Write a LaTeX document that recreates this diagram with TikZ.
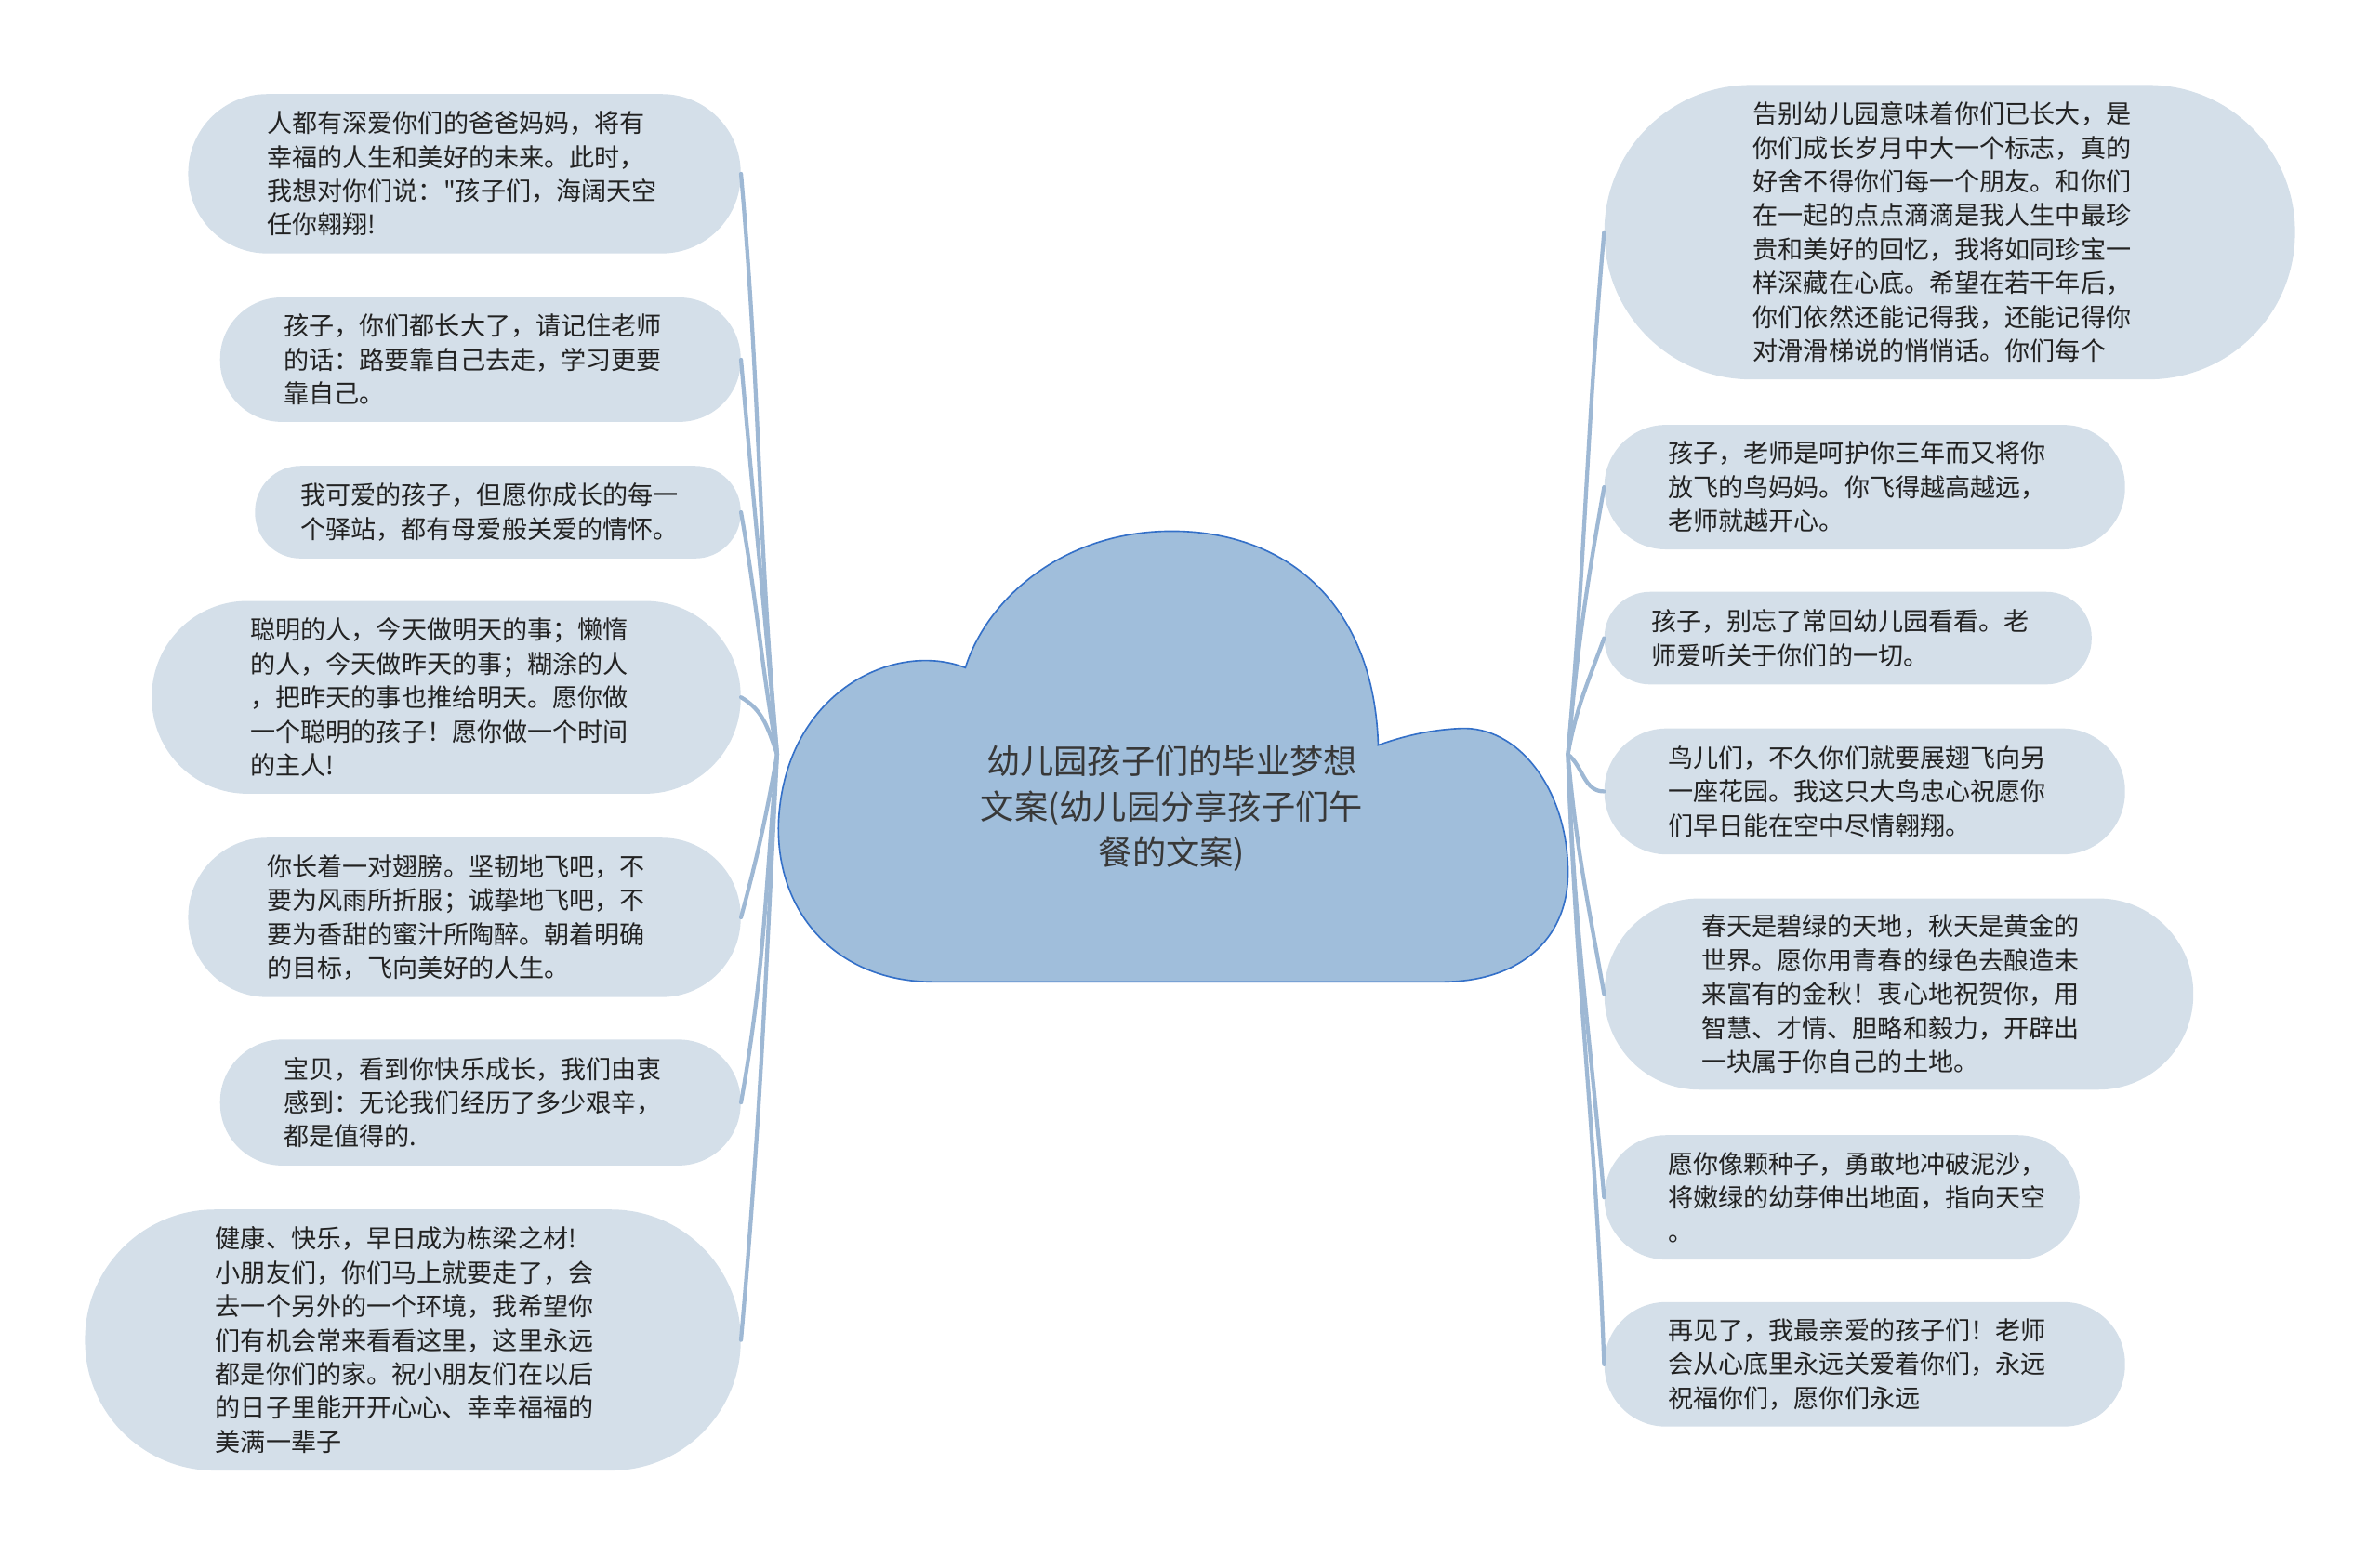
\documentclass[tikz,border=0pt]{standalone}
\usepackage{fontspec}
\setmainfont{Noto Sans CJK SC}
\newfontfamily\plainfont{Noto Sans CJK SC}
\usetikzlibrary{positioning}

\definecolor{bubblefill}{RGB}{212,223,233}
\definecolor{cloudfill}{RGB}{160,190,219}
\definecolor{cloudline}{RGB}{52,112,200}
\definecolor{linkcol}{RGB}{158,184,212}
\definecolor{inkcol}{RGB}{34,34,34}

\tikzset{
  bubble/.style={fill=bubblefill, text=inkcol, align=left, inner ysep=0pt,
    font=\fontsize{16.6}{22.3}\selectfont},
  link/.style={draw=linkcol, line width=2.6pt, line cap=round},
  rootlabel/.style={text=inkcol!90!white, align=center,
    font=\fontsize{22.2}{30}\selectfont}
}

\begin{document}
\begin{tikzpicture}[x=1pt,y=1pt]
\useasboundingbox (0,0) rectangle (1568,-1025);

% central cloud
\fill[cloudfill, draw=cloudline, line width=1pt]
  (636,-440) .. controls (590,-422) and (518,-455) .. (513,-540)
  .. controls (510,-600) and (550,-647) .. (615,-647)
  -- (950,-647)
  .. controls (1000,-647) and (1033,-620) .. (1033,-575)
  .. controls (1033,-520) and (1000,-478) .. (962,-480)
  .. controls (940,-481) and (922,-486) .. (908,-491)
  .. controls (905,-395) and (845,-350) .. (772,-350)
  .. controls (700,-350) and (650,-395) .. (636,-440) -- cycle;
\node[rootlabel] (root) at (772,-533) {幼儿园孩子们的毕业梦想\\文案(幼儿园分享孩子们午\\餐的文案)};
\coordinate (J) at (512,-497);
\coordinate (K) at (1033,-497);

% left side
\node[bubble, minimum height=105pt, rounded corners=52pt, text width=260pt, inner xsep=52pt] (L1) at (306,-114.5)
  {人都有深爱你们的爸爸妈妈，将有\\幸福的人生和美好的未来。此时，\\我想对你们说：{\plainfont"}孩子们，海阔天空\\任你翱翔!};
\node[bubble, minimum height=82pt, rounded corners=40.5pt, text width=259pt, inner xsep=42pt] (L2) at (316.5,-237)
  {孩子，你们都长大了，请记住老师\\的话：路要靠自己去走，学习更要\\靠自己。};
\node[bubble, minimum height=61pt, rounded corners=30pt, text width=260pt, inner xsep=30pt] (L3) at (328,-337.5)
  {我可爱的孩子，但愿你成长的每一\\个驿站，都有母爱般关爱的情怀。};
\node[bubble, minimum height=127pt, rounded corners=63pt, text width=258pt, inner xsep=65pt] (L4) at (294,-459.5)
  {聪明的人，今天做明天的事；懒惰\\的人，今天做昨天的事；糊涂的人\\，把昨天的事也推给明天。愿你做\\一个聪明的孩子！愿你做一个时间\\的主人!};
\node[bubble, minimum height=105pt, rounded corners=52pt, text width=260pt, inner xsep=52pt] (L5) at (306,-604.5)
  {你长着一对翅膀。坚韧地飞吧，不\\要为风雨所折服；诚挚地飞吧，不\\要为香甜的蜜汁所陶醉。朝着明确\\的目标，飞向美好的人生。};
\node[bubble, minimum height=83pt, rounded corners=41pt, text width=259pt, inner xsep=42pt] (L6) at (316.5,-726.5)
  {宝贝，看到你快乐成长，我们由衷\\感到：无论我们经历了多少艰辛，\\都是值得的.};
\node[bubble, minimum height=172pt, rounded corners=85.5pt, text width=260pt, inner xsep=86pt] (L7) at (272,-883)
  {健康、快乐，早日成为栋梁之材!\\小朋友们，你们马上就要走了，会\\去一个另外的一个环境，我希望你\\们有机会常来看看这里，这里永远\\都是你们的家。祝小朋友们在以后\\的日子里能开开心心、幸幸福福的\\美满一辈子};

% right side
\node[bubble, minimum height=194pt, rounded corners=96.5pt, text width=259pt, inner xsep=98pt] (R1) at (1284.5,-153)
  {告别幼儿园意味着你们已长大，是\\你们成长岁月中大一个标志，真的\\好舍不得你们每一个朋友。和你们\\在一起的点点滴滴是我人生中最珍\\贵和美好的回忆，我将如同珍宝一\\样深藏在心底。希望在若干年后，\\你们依然还能记得我，还能记得你\\对滑滑梯说的悄悄话。你们每个};
\node[bubble, minimum height=82pt, rounded corners=40.5pt, text width=259pt, inner xsep=42pt] (R2) at (1228.5,-321)
  {孩子，老师是呵护你三年而又将你\\放飞的鸟妈妈。你飞得越高越远，\\老师就越开心。};
\node[bubble, minimum height=61pt, rounded corners=30pt, text width=259pt, inner xsep=31pt] (R3) at (1217.5,-420.5)
  {孩子，别忘了常回幼儿园看看。老\\师爱听关于你们的一切。};
\node[bubble, minimum height=83pt, rounded corners=41pt, text width=259pt, inner xsep=42pt] (R4) at (1228.5,-521.5)
  {鸟儿们，不久你们就要展翅飞向另\\一座花园。我这只大鸟忠心祝愿你\\们早日能在空中尽情翱翔。};
\node[bubble, minimum height=126pt, rounded corners=62.5pt, text width=260pt, inner xsep=64pt] (R5) at (1251,-655)
  {春天是碧绿的天地，秋天是黄金的\\世界。愿你用青春的绿色去酿造未\\来富有的金秋！衷心地祝贺你，用\\智慧、才情、胆略和毅力，开辟出\\一块属于你自己的土地。};
\node[bubble, minimum height=82pt, rounded corners=40.5pt, text width=229pt, inner xsep=42pt] (R6) at (1213.5,-789)
  {愿你像颗种子，勇敢地冲破泥沙，\\将嫩绿的幼芽伸出地面，指向天空\\。};
\node[bubble, minimum height=82pt, rounded corners=40.5pt, text width=259pt, inner xsep=42pt] (R7) at (1228.5,-899)
  {再见了，我最亲爱的孩子们！老师\\会从心底里永远关爱着你们，永远\\祝福你们，愿你们永远};

% connectors
\foreach \n/\o/\i in {L1/95/-85, L2/95/-85, L3/100/-80, L4/110/-30,
                      L5/-100/75, L6/-95/80, L7/-93/85}
  \draw[link] (J) to[out=\o,in=\i] (\n.east);
\foreach \n/\o/\i in {R1/85/-95, R2/85/-100, R3/80/-110, R4/-40/180,
                      R5/-85/100, R6/-88/95, R7/-88/92}
  \draw[link] (K) to[out=\o,in=\i] (\n.west);
\end{tikzpicture}
\end{document}
